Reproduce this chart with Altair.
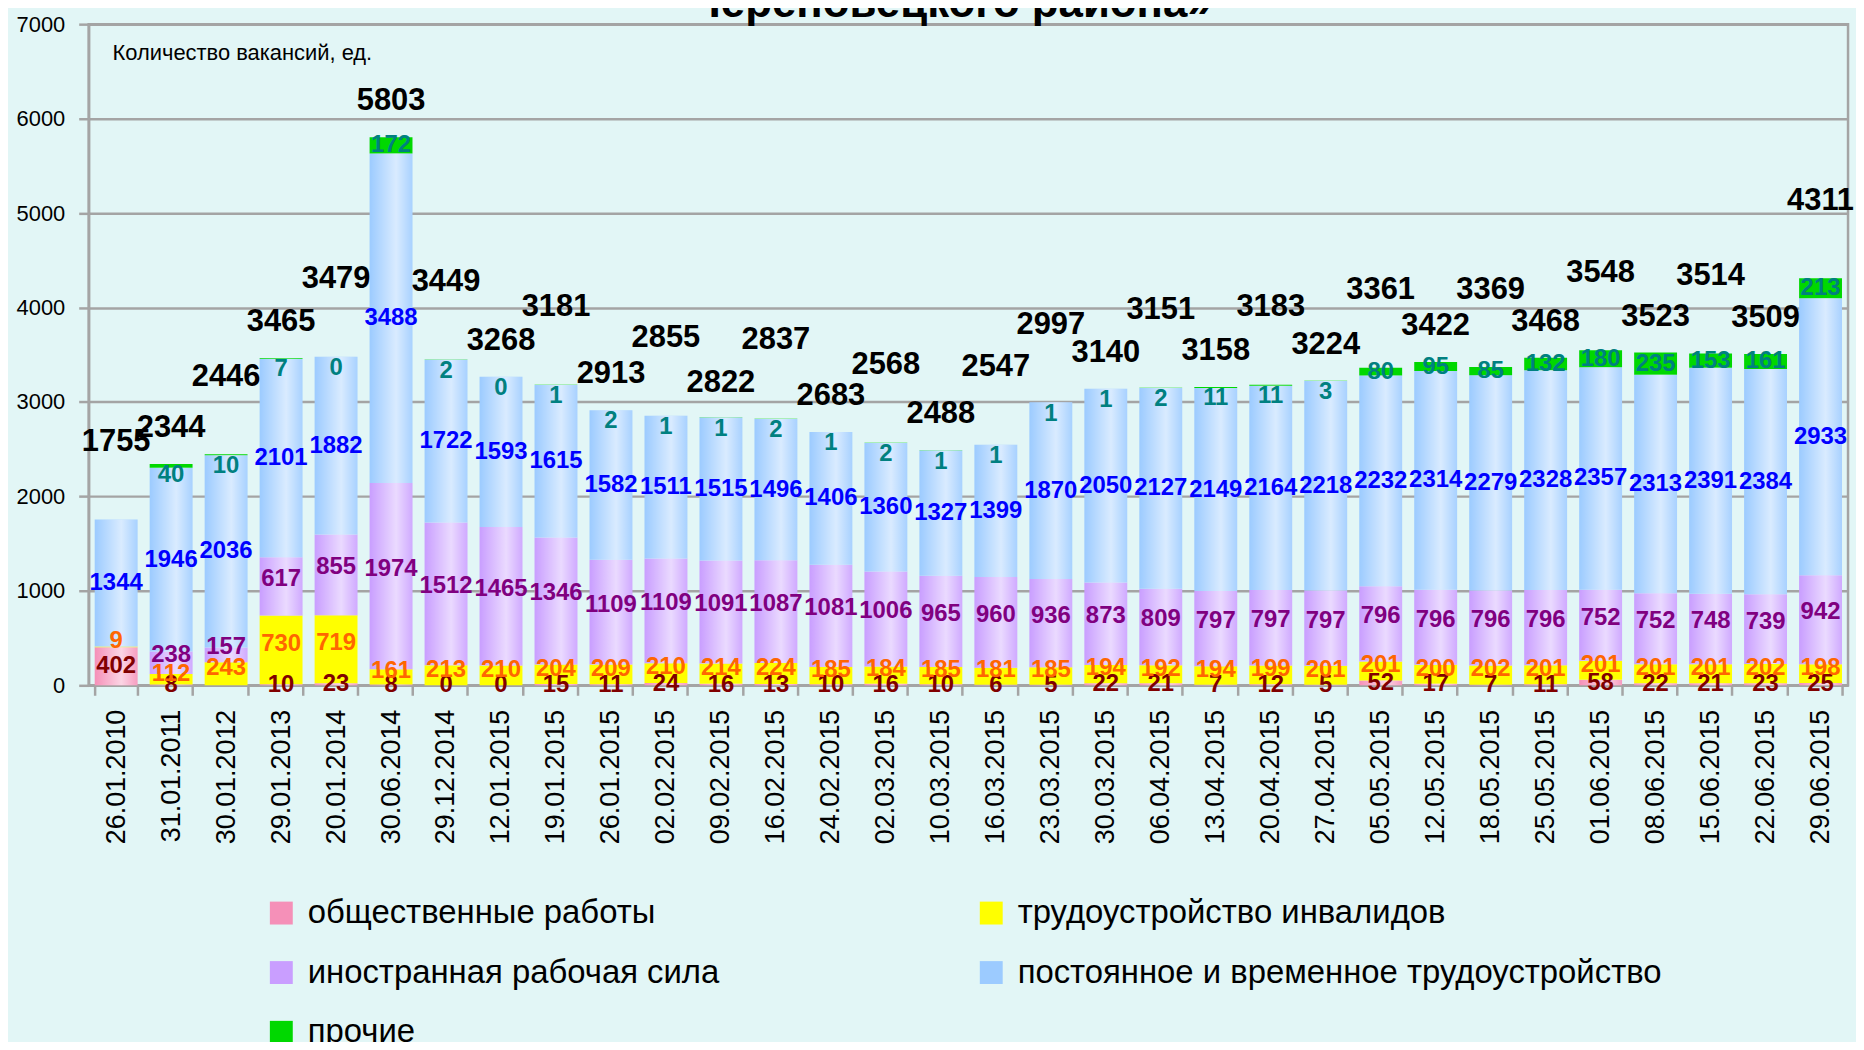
import altair as alt
import pandas as pd

dates = ["26.01.2010", "31.01.2011", "30.01.2012", "29.01.2013", "20.01.2014", "30.06.2014",
         "29.12.2014", "12.01.2015", "19.01.2015", "26.01.2015", "02.02.2015", "09.02.2015",
         "16.02.2015", "24.02.2015", "02.03.2015", "10.03.2015", "16.03.2015", "23.03.2015",
         "30.03.2015", "06.04.2015", "13.04.2015", "20.04.2015", "27.04.2015", "05.05.2015",
         "12.05.2015", "18.05.2015", "25.05.2015", "01.06.2015", "08.06.2015", "15.06.2015",
         "22.06.2015", "29.06.2015"]

# stacking order, bottom to top
series = ["общественные работы", "трудоустройство инвалидов", "иностранная рабочая сила",
          "постоянное и временное трудоустройство", "прочие"]

public_works = [402, 8, None, 10, 23, 8, 0, 0, 15, 11, 24, 16, 13, 10, 16, 10, 6, 5, 22, 21,
                7, 12, 5, 52, 17, 7, 11, 58, 22, 21, 23, 25]
disabled = [9, 112, 243, 730, 719, 161, 213, 210, 204, 209, 210, 214, 224, 185, 184, 185, 181,
            185, 194, 192, 194, 199, 201, 201, 200, 202, 201, 201, 201, 201, 202, 198]
foreign = [None, 238, 157, 617, 855, 1974, 1512, 1465, 1346, 1109, 1109, 1091, 1087, 1081, 1006,
           965, 960, 936, 873, 809, 797, 797, 797, 796, 796, 796, 796, 752, 752, 748, 739, 942]
permanent = [1344, 1946, 2036, 2101, 1882, 3488, 1722, 1593, 1615, 1582, 1511, 1515, 1496, 1406,
             1360, 1327, 1399, 1870, 2050, 2127, 2149, 2164, 2218, 2232, 2314, 2279, 2328, 2357,
             2313, 2391, 2384, 2933]
other = [None, 40, 10, 7, 0, 172, 2, 0, 1, 2, 1, 1, 2, 1, 2, 1, 1, 1, 1, 2, 11, 11, 3, 80, 95,
         85, 132, 180, 235, 153, 161, 213]
totals = [1755, 2344, 2446, 3465, 3479, 5803, 3449, 3268, 3181, 2913, 2855, 2822, 2837, 2683,
          2568, 2488, 2547, 2997, 3140, 3151, 3158, 3183, 3224, 3361, 3422, 3369, 3468, 3548,
          3523, 3514, 3509, 4311]

y_ticks = [0, 1000, 2000, 3000, 4000, 5000, 6000, 7000]
note_text = ["Количество вакансий, ед."]
title_text = ["Череповецкого района»"]

bar_colors = ["#F590B8", "#FFFF00", "#C99EFF", "#9CCBFF", "#00D800"]
label_colors = ["#800000", "#FF6600", "#800080", "#0000FF", "#008080"]

# legend is filled column by column: left column first, then right column
legend_order = [0, 2, 4, 1, 3]
legend_domain = [series[i] for i in legend_order]
legend_range = [bar_colors[i] for i in legend_order]

# ---- build tables ----
rows = []
for i, d in enumerate(dates):
    for k, vals in enumerate([public_works, disabled, foreign, permanent, other]):
        rows.append({"date": d, "series": series[k], "order": k, "value": vals[i]})
df = pd.DataFrame(rows)
tot_df = pd.DataFrame({"date": dates, "total": totals, "idx": list(range(len(dates)))})

FONT = "Liberation Sans, Arial, sans-serif"
GRID = "#A4A4A4"

x_enc = alt.X("date:N", sort=dates,
              scale=alt.Scale(paddingInner=0.22, paddingOuter=0.11),
              axis=alt.Axis(title=None, labelAngle=270, labelAlign="right", labelBaseline="middle",
                            labelFont=FONT, labelFontSize=27, labelColor="black",
                            labelPadding=14, tickBand="extent", tickSize=10, tickWidth=2.5,
                            tickColor=GRID, domainColor=GRID, domainWidth=2.5, grid=False))
y_scale = alt.Scale(domain=[0, 7000], nice=False)

base = (alt.Chart(df)
        .transform_filter("isValid(datum.value)")
        .transform_stack(stack="value", as_=["y0", "y1"], groupby=["date"],
                         sort=[alt.SortField("order", order="ascending")]))

bars = base.mark_bar().encode(
    x=x_enc,
    y=alt.Y("y0:Q", scale=y_scale,
            axis=alt.Axis(title=None, values=y_ticks, format="d", grid=True, gridColor=GRID,
                          gridWidth=2.5, domainColor=GRID, domainWidth=2.5, tickColor=GRID,
                          tickWidth=2.5, tickSize=10, labelFont=FONT, labelFontSize=22,
                          labelColor="black", labelPadding=14)),
    y2="y1:Q",
    color=alt.Color("series:N", scale=alt.Scale(domain=legend_domain, range=legend_range),
                    legend=alt.Legend(title=None, orient="none", legendX=177, legendY=876,
                                      columns=2, columnPadding=256, rowPadding=26,
                                      symbolType="M-1,-1H1V1H-1Z", symbolSize=529,
                                      symbolStrokeWidth=0, labelFont=FONT, labelFontSize=33,
                                      labelColor="black", labelOffset=10, labelLimit=900)),
)

shine = (base.transform_filter(alt.FieldOneOfPredicate(field="series",
                                                       oneOf=[series[0], series[2], series[3]]))
         .mark_bar(fill=alt.Gradient(gradient="linear", x1=0, x2=1, y1=0, y2=0, stops=[
             alt.GradientStop(color="rgba(255,255,255,0)", offset=0),
             alt.GradientStop(color="rgba(255,255,255,0.62)", offset=0.62),
             alt.GradientStop(color="rgba(255,255,255,0.12)", offset=1)]))
         .encode(x=alt.X("date:N", sort=dates), y=alt.Y("y0:Q"), y2="y1:Q"))

label_y_expr = [
    "(datum.y0 + datum.y1) / 2",
    "(datum.y0 + datum.y1) / 2 + 60",
    "(datum.y0 + datum.y1) / 2 + 80",
    "(datum.y0 + datum.y1) / 2",
    "datum.value >= 50 ? (datum.y0 + datum.y1) / 2 : datum.y1 - 120",
]

layers = [bars, shine]
for k, s in enumerate(series):
    t = (base.transform_filter(alt.datum.series == s)
         .transform_calculate(ylab=label_y_expr[k])
         .mark_text(font=FONT, fontSize=24, fontWeight="bold", color=label_colors[k],
                    baseline="middle", align="center")
         .encode(x=alt.X("date:N", sort=dates), y=alt.Y("ylab:Q"),
                 text=alt.Text("value:Q", format="d")))
    layers.append(t)

# staggered total labels (alternate high / low so neighbours do not collide)
total_text = (alt.Chart(tot_df)
              .transform_calculate(
                  ylab="datum.total + (((datum.idx < 17 ? datum.idx : datum.idx + 1) % 2 == 0) ? 820 : 380)")
              .mark_text(font=FONT, fontSize=31, fontWeight="bold", color="black",
                         baseline="middle", align="center")
              .encode(x=alt.X("date:N", sort=dates), y=alt.Y("ylab:Q"),
                      text=alt.Text("total:Q", format="d")))
layers.append(total_text)

note = (alt.Chart(pd.DataFrame({"t": note_text}))
        .mark_text(font=FONT, fontSize=22, color="black", align="left", baseline="middle")
        .encode(x=alt.value(24), y=alt.value(29), text="t:N"))
title = (alt.Chart(pd.DataFrame({"t": title_text}))
         .mark_text(font=FONT, fontSize=44, fontWeight="bold", color="black", align="center",
                    baseline="alphabetic")
         .encode(x=alt.value(866), y=alt.value(-7), text="t:N"))
layers += [note, title]

chart = (alt.layer(*layers)
         .properties(width=1767, height=664,
                     padding={"left": 81, "top": 14, "right": 8, "bottom": 356},
                     autosize=alt.AutoSizeParams(type="none"),
                     background="#E2F6F6")
         .configure_view(stroke=GRID, strokeWidth=2.5))

chart.save("out.html", embed_options={"renderer": "svg", "actions": False})
